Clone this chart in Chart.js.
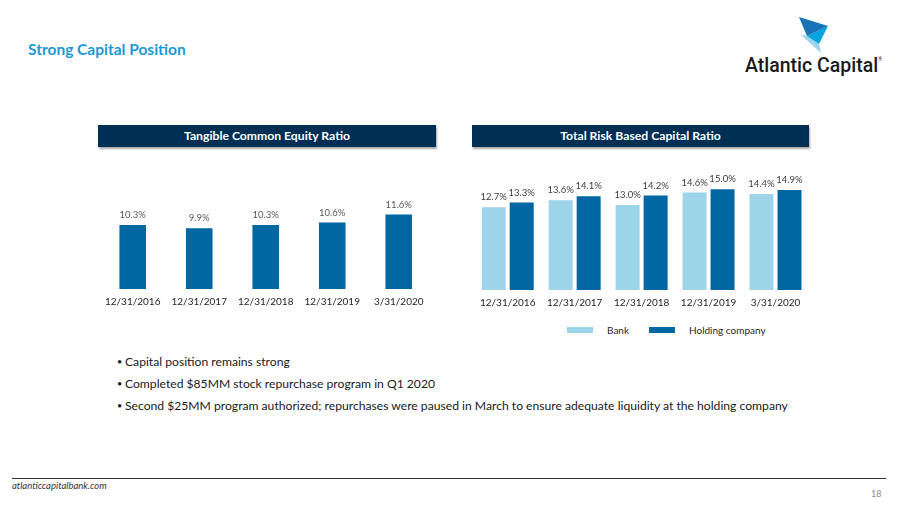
<!DOCTYPE html>
<html><head><meta charset="utf-8">
<script src="https://cdn.jsdelivr.net/npm/chart.js@4/dist/chart.umd.min.js"></script>
<style>
html,body{margin:0;padding:0;background:#fff;}
body{width:900px;height:506px;position:relative;overflow:hidden;font-family:Lato,"Open Sans",sans-serif;}
.abs{position:absolute;}
#title{left:28px;top:40px;font-size:15.5px;font-weight:700;color:#1B9AD6;white-space:nowrap;}
.hdr{position:absolute;height:22px;background:#002F56;color:#fff;font-weight:700;font-size:12.2px;line-height:22px;text-align:center;box-shadow:1px 2px 2px rgba(0,0,0,0.35);}
#bul{left:117px;top:353px;font-size:12.15px;color:#1a1a1a;}
#bul div{height:22px;line-height:18px;white-space:nowrap;position:relative;padding-left:8px;}
#bul div:before{content:"\2022";position:absolute;left:0;top:0;font-size:9px;}
#foot{left:12px;top:478px;width:874px;height:1px;background:#333;}
#site{left:12px;top:480px;font-size:9.5px;font-style:italic;color:#333;}
#page{left:871px;top:488px;font-size:9px;color:#8a8a8a;}
#logo{left:745px;top:54px;font-family:Roboto,"Liberation Sans",Arial,sans-serif;font-weight:500;font-size:19.5px;color:#1a1a1a;white-space:nowrap;}
#logo sup{font-size:5px;vertical-align:top;position:relative;top:2px;}
#legend{left:473px;top:323px;width:336px;font-size:10px;color:#262626;}
.li{position:absolute;top:0;white-space:nowrap;line-height:14px;}
.sw{display:inline-block;width:26px;height:6px;vertical-align:middle;margin-right:14px;position:relative;top:-1px;}
</style></head>
<body>
<div id="title" class="abs">Strong Capital Position</div>
<svg class="abs" style="left:0;top:0" width="900" height="80">
  <polygon points="800,34 807,36 819,44 821,53" fill="#9DD5EC"/>
  <polygon points="807,36 828,26 819,44" fill="#00A4E0"/>
  <polygon points="799,17 828,26 807,36" fill="#1673B6"/>
</svg>
<div id="logo" class="abs">Atlantic Capital<sup>®</sup></div>

<div class="hdr" style="left:98px;top:125px;width:338px;">Tangible Common Equity Ratio</div>
<div class="hdr" style="left:472px;top:125px;width:337px;">Total Risk Based Capital Ratio</div>

<div class="abs" style="left:98px;top:150px;width:334px;height:167px;"><canvas id="c1"></canvas></div>
<div class="abs" style="left:473px;top:150px;width:336px;height:168px;"><canvas id="c2"></canvas></div>
<div id="legend" class="abs"></div>

<div id="bul" class="abs">
  <div>Capital position remains strong</div>
  <div>Completed $85MM stock repurchase program in Q1 2020</div>
  <div>Second $25MM program authorized; repurchases were paused in March to ensure adequate liquidity at the holding company</div>
</div>

<div id="foot" class="abs"></div>
<div id="site" class="abs">atlanticcapitalbank.com</div>
<div id="page" class="abs">18</div>

<script>
const categories = ['12/31/2016', '12/31/2017', '12/31/2018', '12/31/2019', '3/31/2020'];
const tceRatio = [10.3, 9.9, 10.3, 10.6, 11.6];
const bankRatio = [12.7, 13.6, 13.0, 14.6, 14.4];
const holdingRatio = [13.3, 14.1, 14.2, 15.0, 14.9];
const seriesNames = ['Bank', 'Holding company'];

const LIGHT = '#9DD4E9';
const DARK = '#0067A3';

Chart.defaults.font.family = 'Lato, "Open Sans", sans-serif';
Chart.defaults.font.size = 10;
Chart.defaults.color = '#262626';
Chart.defaults.animation = false;
Chart.defaults.devicePixelRatio = 1;

const valueLabels = {
  id: 'valueLabels',
  afterDatasetsDraw(chart, args, opts) {
    const ctx = chart.ctx;
    ctx.save();
    ctx.font = '9.5px Lato, "Open Sans", sans-serif';
    ctx.fillStyle = opts.color || '#595959';
    ctx.textAlign = 'center';
    ctx.textBaseline = 'middle';
    chart.data.datasets.forEach((ds, i) => {
      const meta = chart.getDatasetMeta(i);
      meta.data.forEach((el, j) => {
        ctx.fillText(ds.data[j].toFixed(1) + '%', el.x, el.y - (opts.offset || 10));
      });
    });
    ctx.restore();
  }
};

function xAxis() {
  return {
    grid: { display: false, drawTicks: false },
    border: { display: false },
    ticks: { padding: 7, color: '#262626', font: { size: 10 }, maxRotation: 0, autoSkip: false }
  };
}

new Chart(document.getElementById('c1'), {
  type: 'bar',
  data: {
    labels: categories,
    datasets: [{ label: 'TCE', data: tceRatio, backgroundColor: DARK, borderWidth: 0,
      barPercentage: 0.4, categoryPercentage: 1.0 }]
  },
  options: {
    responsive: true, maintainAspectRatio: false,
    layout: { padding: { top: 0, bottom: 2, left: 0, right: 0 } },
    plugins: { legend: { display: false }, tooltip: { enabled: false },
      valueLabels: { color: '#595959', offset: 10 } },
    scales: {
      x: xAxis(),
      y: { display: false, min: 2.4, max: 19.56 }
    }
  },
  plugins: [valueLabels]
});

new Chart(document.getElementById('c2'), {
  type: 'bar',
  data: {
    labels: categories,
    datasets: [
      { label: seriesNames[0], data: bankRatio, backgroundColor: LIGHT, borderWidth: 0,
        barPercentage: 0.857, categoryPercentage: 0.836 },
      { label: seriesNames[1], data: holdingRatio, backgroundColor: DARK, borderWidth: 0,
        barPercentage: 0.857, categoryPercentage: 0.836 }
    ]
  },
  options: {
    responsive: true, maintainAspectRatio: false,
    layout: { padding: { top: 0, bottom: 2, left: 0, right: 0 } },
    plugins: { legend: { display: false }, tooltip: { enabled: false },
      valueLabels: { color: '#404040', offset: 10 } },
    scales: {
      x: xAxis(),
      y: { display: false, min: 2.14, max: 20.02 }
    }
  },
  plugins: [valueLabels]
});

// HTML legend from series names/colours
const lg = document.getElementById('legend');
const colors = [LIGHT, DARK];
const lefts = [94, 176];
seriesNames.forEach((n, i) => {
  const d = document.createElement('div');
  d.className = 'li';
  d.style.left = lefts[i] + 'px';
  d.innerHTML = '<span class="sw" style="background:' + colors[i] + '"></span>' + n;
  lg.appendChild(d);
});
</script>
</body></html>
